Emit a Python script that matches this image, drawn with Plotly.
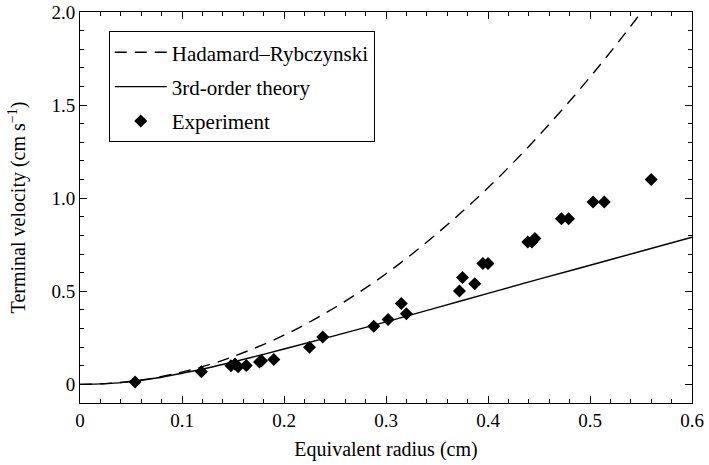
import plotly.graph_objects as go

# Experimental data (equivalent radius cm, terminal velocity cm/s)
exp_r = [0.054, 0.119, 0.148, 0.152, 0.155, 0.163, 0.176, 0.178, 0.190,
         0.225, 0.238, 0.288, 0.302, 0.315, 0.320, 0.372, 0.375, 0.387,
         0.395, 0.400, 0.439, 0.443, 0.446, 0.472, 0.479, 0.503, 0.514, 0.560]
exp_v = [0.013, 0.068, 0.100, 0.110, 0.095, 0.102, 0.120, 0.127, 0.133,
         0.200, 0.254, 0.312, 0.348, 0.434, 0.380, 0.502, 0.574, 0.541,
         0.649, 0.649, 0.765, 0.765, 0.783, 0.890, 0.890, 0.980, 0.980, 1.100]

# Curves
curve_r = [0, 0.025, 0.05, 0.075, 0.1, 0.125, 0.15, 0.2, 0.25, 0.3, 0.35, 0.4, 0.45, 0.5, 0.55, 0.6]
hr_v    = [0, 0.004, 0.0165, 0.037, 0.066, 0.103, 0.149, 0.264, 0.413, 0.594, 0.81, 1.056, 1.337, 1.65, 1.997, 2.38]
third_v = [0, 0.004, 0.015, 0.034, 0.060, 0.088, 0.120, 0.190, 0.262, 0.336, 0.412, 0.489, 0.565, 0.640, 0.715, 0.790]

x_range = [0, 0.6]
y_range = [-0.1, 2.0]

FONT = "Liberation Serif"

fig = go.Figure()
fig.add_trace(go.Scatter(x=curve_r, y=hr_v, mode="lines", name="Hadamard–Rybczynski",
                         line=dict(color="black", width=1.4, dash="12px,8px", shape="spline"),
                         legendgroup="a"))
fig.add_trace(go.Scatter(x=curve_r, y=third_v, mode="lines", name="3rd-order theory",
                         line=dict(color="black", width=1.4, shape="spline"),
                         legendgroup="b"))
fig.add_trace(go.Scatter(x=exp_r, y=exp_v, mode="markers", name="Experiment",
                         marker=dict(symbol="diamond", size=10, color="black"),
                         legendgroup="c"))
# empty trace that carries the minor-tick overlay axes
fig.add_trace(go.Scatter(x=[], y=[], xaxis="x2", yaxis="y2", showlegend=False,
                         hoverinfo="skip", mode="markers"))

major_common = dict(showline=True, linecolor="black", linewidth=1, mirror="allticks",
                    ticks="inside", ticklen=7, tickwidth=1, tickcolor="black",
                    showgrid=False, zeroline=False, automargin=False,
                    tickfont=dict(family=FONT, size=19, color="black"))
minor_common = dict(showline=False, mirror="allticks", ticks="inside", ticklen=4,
                    tickwidth=1, tickcolor="black", showgrid=False, zeroline=False,
                    showticklabels=False, automargin=False)

fig.update_layout(
    xaxis=dict(range=x_range, tickmode="linear", tick0=0, dtick=0.1,
               title=dict(text="Equivalent radius (cm)",
                          font=dict(family=FONT, size=20, color="black"), standoff=12),
               **major_common),
    yaxis=dict(range=y_range, tickmode="linear", tick0=0, dtick=0.5, tickformat=".1f",
               labelalias={"0.0": "0"},
               title=dict(text="Terminal velocity (cm s<sup>−1</sup>)",
                          font=dict(family=FONT, size=20, color="black"), standoff=20),
               **major_common),
    xaxis2=dict(range=x_range, overlaying="x", anchor="y2", tickmode="linear",
                tick0=0, dtick=0.02, **minor_common),
    yaxis2=dict(range=y_range, overlaying="y", anchor="x2", tickmode="linear",
                tick0=0, dtick=0.1, **minor_common),
    width=709, height=465,
    margin=dict(l=80, r=17, t=12, b=62),
    plot_bgcolor="white", paper_bgcolor="white",
    font=dict(family=FONT, size=19, color="black"),
    legend=dict(x=0.047, y=0.951, xanchor="left", yanchor="top",
                bordercolor="black", borderwidth=1, bgcolor="white",
                font=dict(family=FONT, size=21, color="black"),
                tracegroupgap=4, itemwidth=52),
    showlegend=True,
)

fig.write_html("out.html", config={"displayModeBar": False},
               post_script="document.body.style.margin='0';document.body.style.overflow='hidden';")
